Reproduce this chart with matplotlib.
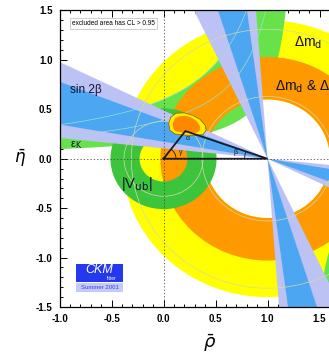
import numpy as np
import matplotlib.pyplot as plt
from matplotlib.patches import Annulus, Polygon, Rectangle, Arc, Circle

plt.rcParams['font.family'] = ['Liberation Sans', 'DejaVu Sans']

# constraint parameters (rho-bar, eta-bar plane)
dmd_center = (1.0, 0.0)
dmd_radii = [0.60, 1.40]          # delta m_d alone (yellow)
dmds_radii = [0.60, 1.03]         # delta m_d & delta m_s (orange)
vub_radii = [0.23, 0.51]          # |Vub| ring around the origin (green)
epsk_a = 1.33                     # eps_K band: eta * (a - rho) between c_low and c_high
epsk_c = [0.24, 0.81]
# sin 2beta wedges, angles (deg) from the -rho axis at (1, 0)
wedge_outer = [[6.0, 26.1], [64.8, 85.8]]
wedge_inner = [[9.8, 21.3], [72.4, 82.5]]

# combined fit region outline
fit_out_rho = [0.05, 0.07, 0.12, 0.20, 0.28, 0.35, 0.40, 0.41, 0.38, 0.30, 0.20, 0.11, 0.06]
fit_out_eta = [0.36, 0.42, 0.46, 0.465, 0.44, 0.40, 0.34, 0.29, 0.245, 0.235, 0.24, 0.25, 0.29]
fit_in_rho = [0.09, 0.11, 0.15, 0.21, 0.27, 0.32, 0.35, 0.35, 0.32, 0.25, 0.17, 0.11, 0.09]
fit_in_eta = [0.36, 0.41, 0.43, 0.435, 0.415, 0.38, 0.33, 0.29, 0.265, 0.26, 0.265, 0.28, 0.32]
apex = (0.21, 0.28)

# faint theory lines
faint_circles = [((0.0, 0.0), 0.38), ((1.0, 0.0), 1.31), ((1.0, 0.0), 0.63)]
faint_epsk = [0.52, 0.80]

xticks = [-1.0, -0.5, 0.0, 0.5, 1.0, 1.5]
yticks = [-1.5, -1.0, -0.5, 0.0, 0.5, 1.0, 1.5]

YEL = '#ffff00'
ORA = '#ff9900'
GRN_E = '#68e24a'
GRN_V = '#3cc43c'
BLUE = '#4ca6f2'
LAV = '#bcc2f4'

fig = plt.figure(figsize=(3.29, 3.57), dpi=100)
ax = fig.add_axes([0.1809, 0.1401, 0.9483, 0.8305])
ax.set_xlim(-1.0, 2.0)
ax.set_ylim(-1.5, 1.5)

# delta m_d (yellow)
ax.add_patch(Annulus(dmd_center, dmd_radii[1], dmd_radii[1] - dmd_radii[0],
                     color=YEL, lw=0, zorder=1))

# eps_K hyperbola band (both branches)
r1 = np.linspace(-1.2, epsk_a - 0.005, 600)
ax.fill_between(r1, np.clip(epsk_c[0] / (epsk_a - r1), -3, 3),
                np.clip(epsk_c[1] / (epsk_a - r1), -3, 3), color=GRN_E, lw=0, zorder=2)
r2 = np.linspace(epsk_a + 0.005, 2.2, 400)
ax.fill_between(r2, np.clip(epsk_c[1] / (epsk_a - r2), -3, 3),
                np.clip(epsk_c[0] / (epsk_a - r2), -3, 3), color=GRN_E, lw=0, zorder=2)

# delta m_d & delta m_s (orange)
ax.add_patch(Annulus(dmd_center, dmds_radii[1], dmds_radii[1] - dmds_radii[0],
                     color=ORA, lw=0, zorder=3))

# |Vub| (green)
ax.add_patch(Annulus((0, 0), vub_radii[1], vub_radii[1] - vub_radii[0],
                     color=GRN_V, lw=0, zorder=4))


def double_wedge(p1, p2, color, z):
    R = 6.0
    d1 = np.array([-np.cos(np.radians(p1)), np.sin(np.radians(p1))])
    d2 = np.array([-np.cos(np.radians(p2)), np.sin(np.radians(p2))])
    c = np.array(dmd_center)
    for s in (1, -1):
        ax.add_patch(Polygon([c, c + s * R * d1, c + s * R * d2],
                             closed=True, color=color, lw=0, zorder=z))


for p1, p2 in wedge_outer:
    double_wedge(p1, p2, LAV, 5)
for p1, p2 in wedge_inner:
    double_wedge(p1, p2, BLUE, 6)

# faint lines
for cen, r in faint_circles:
    ax.add_patch(Circle(cen, r, fill=False, ec='#d8d8a8', lw=0.5, zorder=7))
r3 = np.linspace(-1.2, 1.3, 300)
for c in faint_epsk:
    ax.plot(r3, c / (epsk_a - r3), color='#8fe6cc', lw=0.5, zorder=7)

# axis lines
ax.axhline(0, color='#444444', lw=0.6, ls=(0, (1.5, 2.5)), zorder=8)
ax.axvline(0, color='#444444', lw=0.6, ls=(0, (1.5, 2.5)), zorder=8)

# fit region
ax.add_patch(Polygon(np.column_stack([fit_out_rho, fit_out_eta]), closed=True,
                     fc='#ffee00', ec='#9a6a00', lw=0.6, zorder=9, joinstyle='round'))
ax.add_patch(Polygon(np.column_stack([fit_in_rho, fit_in_eta]), closed=True,
                     fc='#ff8800', ec='none', zorder=10))

# unitarity triangle
ax.plot([0, apex[0], 1, 0], [0, apex[1], 0, 0], color='#1a1a28', lw=1.3, zorder=11,
        solid_joinstyle='miter')
gam = np.degrees(np.arctan2(apex[1], apex[0]))
bet = np.degrees(np.arctan2(apex[1], 1 - apex[0]))
ax.add_patch(Arc((0, 0), 0.24, 0.24, theta1=0, theta2=gam, color='#1a1a28', lw=0.6, zorder=11))
ax.add_patch(Arc((1, 0), 0.44, 0.44, theta1=180 - bet, theta2=180, color='#1a1a28', lw=0.6, zorder=11))
ax.text(0.165, 0.06, 'γ', fontsize=5, color='#1a1a28', ha='center', va='center', zorder=12)
ax.text(0.69, 0.06, 'β', fontsize=5, color='#1a1a28', ha='center', va='center', zorder=12)
ax.text(0.235, 0.205, 'α', fontsize=5, color='#1a1a28', ha='center', va='center', zorder=12)

# labels
ax.text(-0.48, 1.37, 'excluded area has CL > 0.95', fontsize=4.7, ha='center', va='center',
        zorder=12, bbox=dict(boxstyle='square,pad=0.3', fc='white', ec='#bbbbbb', lw=0.5))
ax.text(-0.745, 0.70, 'sin 2β', fontsize=8.5, ha='center', va='center', color='#101030', zorder=12)
ax.text(-0.84, 0.14, 'ε$_{\\rm K}$', fontsize=8, ha='center', va='center', color='#101030', zorder=12)
ax.text(-0.255, -0.26, '|V$_{\\rm ub}$|', fontsize=10.5, ha='center', va='center', color='#101030', zorder=12)
ax.text(1.39, 1.17, 'Δm$_{\\rm d}$', fontsize=10, ha='center', va='center', color='#101030', zorder=12)
ax.text(1.07, 0.73, 'Δm$_{\\rm d}$ & Δm$_{\\rm s}$', fontsize=10, ha='left', va='center',
        color='#101030', zorder=12)

# CKMfitter logo
ax.add_patch(Rectangle((-0.84, -1.245), 0.45, 0.182, fc='#2438ee', ec='none', zorder=12))
ax.add_patch(Rectangle((-0.84, -1.346), 0.45, 0.09, fc='#c4cbfb', ec='none', zorder=12))
ax.text(-0.62, -1.13, 'CKM', fontsize=9, style='italic', color='white', ha='center', va='center', zorder=13)
ax.text(-0.50, -1.215, 'fitter', fontsize=3.5, color='white', ha='center', va='center', zorder=13)
ax.text(-0.615, -1.30, 'Summer 2001', fontsize=4.3, color='#3040e0', ha='center', va='center', zorder=13)

# axes style
ax.set_xticks(xticks)
ax.set_yticks(yticks)
ax.set_xticklabels(['%.1f' % v for v in xticks], fontweight='bold', fontsize=7)
ax.set_yticklabels(['%.1f' % v for v in yticks], fontweight='bold', fontsize=7)
ax.set_xticks(np.arange(-1.0, 2.01, 0.1), minor=True)
ax.set_yticks(np.arange(-1.5, 1.51, 0.1), minor=True)
ax.tick_params(which='both', direction='in', top=True, right=True, width=0.7)
ax.tick_params(which='major', length=5, pad=5)
ax.tick_params(which='minor', length=2.5)
for s in ax.spines.values():
    s.set_linewidth(0.9)
    s.set_zorder(14)

fig.text(0.061, 0.557, '$\\bar{\\eta}$', fontsize=12, ha='center', va='center')
fig.text(0.638, 0.039, '$\\bar{\\rho}$', fontsize=13, ha='center', va='center')

fig.savefig('out.png', dpi=100)
